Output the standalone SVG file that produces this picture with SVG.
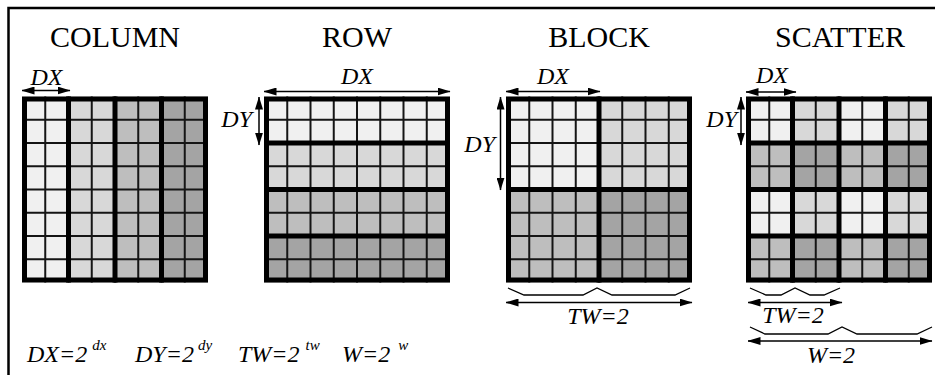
<svg xmlns="http://www.w3.org/2000/svg" xmlns:xlink="http://www.w3.org/1999/xlink" width="935" height="375" viewBox="0 0 935 375">
  <style>
    text { font-family: "Liberation Serif", "Times New Roman", Times, "Nimbus Roman", "Nimbus Roman No9 L", FreeSerif, Tinos, "DejaVu Serif", serif; fill: #000; }
    .title { font-size: 30px; text-anchor: middle; }
    .lbl { font-style: italic; font-size: 24px; }
    .sup { font-size: 15px; }
    .c0 { fill: #f0f0f0; }
    .c1 { fill: #d8d8d8; }
    .c2 { fill: #bebebe; }
    .c3 { fill: #a4a4a4; }
    .thin { fill: none; stroke: #151515; stroke-width: 2; }
    .thick { fill: none; stroke: #000; stroke-width: 5; }
    .dim { fill: none; stroke: #000; stroke-width: 1.5; marker-start: url(#head); marker-end: url(#head); }
    .brace { fill: none; stroke: #000; stroke-width: 1.3; stroke-linejoin: miter; }
    .frame { fill: none; stroke: #000; stroke-width: 2.5; }
  </style>
  <defs>
    <marker id="head" viewBox="0 0 13 8" refX="12.5" refY="4" markerWidth="13" markerHeight="8" markerUnits="userSpaceOnUse" orient="auto-start-reverse">
      <path d="M0 0 L13 4 L0 8 Z" fill="#000"/>
    </marker>
    <!-- 8x8 cell lines, 23.25 px pitch -->
    <path id="cells" class="thin" d="M23.25 0V186M46.5 0V186M69.75 0V186M93 0V186M116.25 0V186M139.5 0V186M162.75 0V186M0 23.25H186M0 46.5H186M0 69.75H186M0 93H186M0 116.25H186M0 139.5H186M0 162.75H186"/>
    <rect id="border" class="thick" x="2.5" y="2.5" width="181" height="181"/>
  </defs>

  <!-- outer frame, open to the right and bottom -->
  <path class="frame" d="M8.5 380V8H940"/>

  <!-- COLUMN distribution -->
  <g id="column">
    <text class="title" x="115" y="47">COLUMN</text>
    <g transform="translate(22 96.5)">
      <rect class="c0" x="0" y="0" width="46.5" height="186"/>
      <rect class="c1" x="46.5" y="0" width="46.5" height="186"/>
      <rect class="c2" x="93" y="0" width="46.5" height="186"/>
      <rect class="c3" x="139.5" y="0" width="46.5" height="186"/>
      <use xlink:href="#cells"/>
      <path class="thick" d="M46.5 0V186M93 0V186M139.5 0V186"/>
      <use xlink:href="#border"/>
    </g>
  </g>

  <!-- ROW distribution -->
  <g id="row">
    <text class="title" x="357" y="47">ROW</text>
    <g transform="translate(264 96.5)">
      <rect class="c0" x="0" y="0" width="186" height="46.5"/>
      <rect class="c1" x="0" y="46.5" width="186" height="46.5"/>
      <rect class="c2" x="0" y="93" width="186" height="46.5"/>
      <rect class="c3" x="0" y="139.5" width="186" height="46.5"/>
      <use xlink:href="#cells"/>
      <path class="thick" d="M0 46.5H186M0 93H186M0 139.5H186"/>
      <use xlink:href="#border"/>
    </g>
  </g>

  <!-- BLOCK distribution -->
  <g id="block">
    <text class="title" x="599" y="47">BLOCK</text>
    <g transform="translate(506 96.5)">
      <rect class="c0" x="0" y="0" width="93" height="93"/>
      <rect class="c1" x="93" y="0" width="93" height="93"/>
      <rect class="c2" x="0" y="93" width="93" height="93"/>
      <rect class="c3" x="93" y="93" width="93" height="93"/>
      <use xlink:href="#cells"/>
      <path class="thick" d="M93 0V186M0 93H186"/>
      <use xlink:href="#border"/>
    </g>
  </g>

  <!-- SCATTER distribution -->
  <g id="scatter">
    <text class="title" x="840" y="47">SCATTER</text>
    <g transform="translate(746 96.5)">
      <rect class="c0" x="0" y="0" width="46.5" height="46.5"/>
      <rect class="c1" x="46.5" y="0" width="46.5" height="46.5"/>
      <rect class="c0" x="93" y="0" width="46.5" height="46.5"/>
      <rect class="c1" x="139.5" y="0" width="46.5" height="46.5"/>
      <rect class="c2" x="0" y="46.5" width="46.5" height="46.5"/>
      <rect class="c3" x="46.5" y="46.5" width="46.5" height="46.5"/>
      <rect class="c2" x="93" y="46.5" width="46.5" height="46.5"/>
      <rect class="c3" x="139.5" y="46.5" width="46.5" height="46.5"/>
      <rect class="c0" x="0" y="93" width="46.5" height="46.5"/>
      <rect class="c1" x="46.5" y="93" width="46.5" height="46.5"/>
      <rect class="c0" x="93" y="93" width="46.5" height="46.5"/>
      <rect class="c1" x="139.5" y="93" width="46.5" height="46.5"/>
      <rect class="c2" x="0" y="139.5" width="46.5" height="46.5"/>
      <rect class="c3" x="46.5" y="139.5" width="46.5" height="46.5"/>
      <rect class="c2" x="93" y="139.5" width="46.5" height="46.5"/>
      <rect class="c3" x="139.5" y="139.5" width="46.5" height="46.5"/>
      <use xlink:href="#cells"/>
      <path class="thick" d="M46.5 0V186M93 0V186M139.5 0V186M0 46.5H186M0 93H186M0 139.5H186"/>
      <use xlink:href="#border"/>
    </g>
  </g>

  <!-- dimension arrows and braces -->
  <g id="dimensions">
    <path class="dim" d="M22 90.5H70"/>
    <path class="dim" d="M264 91.5H450"/>
    <path class="dim" d="M259 97V145"/>
    <path class="dim" d="M506 91.5H600"/>
    <path class="dim" d="M500.5 97V190"/>
    <path class="dim" d="M746 92H796"/>
    <path class="dim" d="M741 97V145"/>

    <path class="brace" d="M508 288L524 295H583L597 288L612 295H675L690 288"/>
    <path class="dim" d="M506 302.5H692"/>

    <path class="brace" d="M750 288L766 295H781L795 288L810 295H824L840 288"/>
    <path class="dim" d="M748 302.5H842"/>

    <path class="brace" d="M750 327L765 334H828L842 327L857 334H917L932 327"/>
    <path class="dim" d="M748 341H932"/>
  </g>

  <!-- dimension labels -->
  <g id="labels">
    <text class="lbl" x="46.5" y="85" text-anchor="middle">DX</text>
    <text class="lbl" x="357" y="84" text-anchor="middle">DX</text>
    <text class="lbl" x="252" y="127" text-anchor="end">DY</text>
    <text class="lbl" x="553" y="84" text-anchor="middle">DX</text>
    <text class="lbl" x="495" y="152" text-anchor="end">DY</text>
    <text class="lbl" x="772" y="83" text-anchor="middle">DX</text>
    <text class="lbl" x="737" y="127" text-anchor="end">DY</text>
    <text class="lbl" x="598" y="324" text-anchor="middle">TW=2</text>
    <text class="lbl" x="793" y="323" text-anchor="middle">TW=2</text>
    <text class="lbl" x="831" y="363" text-anchor="middle">W=2</text>
  </g>

  <!-- size definitions -->
  <g id="legend">
    <text class="lbl" x="27" y="362">DX=2<tspan class="sup" dx="5" dy="-12">dx</tspan></text>
    <text class="lbl" x="135" y="362">DY=2<tspan class="sup" dx="4" dy="-12">dy</tspan></text>
    <text class="lbl" x="238" y="362">TW=2<tspan class="sup" dx="6" dy="-12">tw</tspan></text>
    <text class="lbl" x="342" y="362">W=2<tspan class="sup" dx="8" dy="-12">w</tspan></text>
  </g>
</svg>
